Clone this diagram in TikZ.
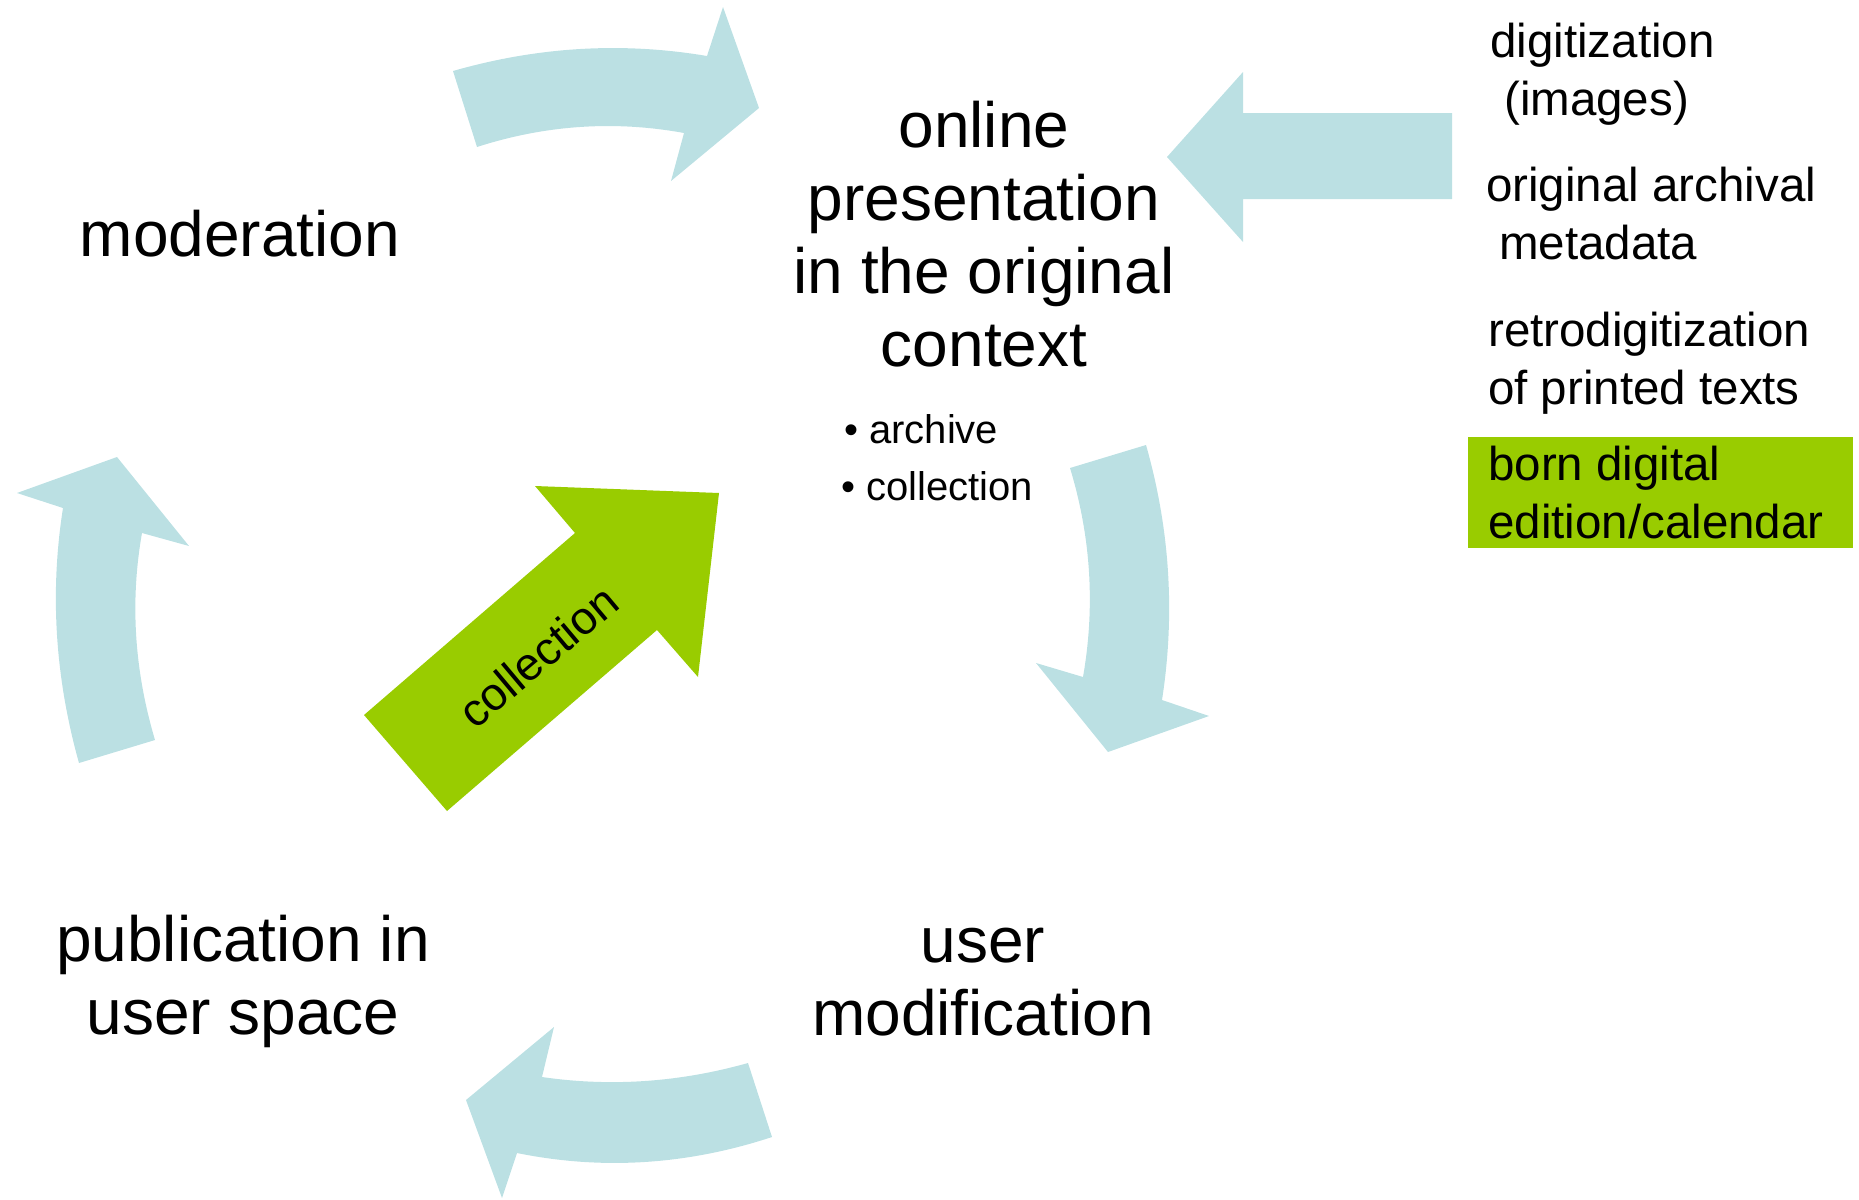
\documentclass[tikz,border=0pt]{standalone}
\usepackage{fontspec}
\setmainfont{Liberation Sans}
\definecolor{flowblue}{RGB}{187,224,227}
\definecolor{limegreen}{RGB}{153,204,0}
\begin{document}
\begin{tikzpicture}[x=1pt,y=-1pt,
  cyc/.style={fill=flowblue, draw=none},
  big/.style={font=\fontsize{64}{73}\selectfont, align=center, inner sep=0pt, anchor=base},
  side/.style={font=\fontsize{47.5}{57.5}\selectfont, align=left, inner sep=0pt, anchor=base west},
  small/.style={font=\fontsize{40}{57}\selectfont, align=left, inner sep=0pt, anchor=base west}]
\useasboundingbox (0,0) rectangle (1859,1199);

% top arrow (moderation -> online presentation)
\path[cyc] (453,71) .. controls (537.7,46.7) and (622.3,41.7) .. (707,56) -- (723,7) -- (759,108) -- (671,181) -- (684,133) .. controls (614.3,120.3) and (545.3,125) .. (477,147) -- cycle;

% input arrow from the right column
\path[cyc] (1167,157) -- (1243,72) -- (1243,113) -- (1452,113) -- (1452,199) -- (1243,199) -- (1243,242) -- cycle;

% right arrow, downwards
\path[cyc] (1070,468) .. controls (1091,537) and (1095.3,606.7) .. (1083,677) -- (1036,663) -- (1108,752) -- (1209,716) -- (1162,700) .. controls (1175.3,614.3) and (1170,529.3) .. (1146,445) -- cycle;

% bottom arrow, leftwards
\path[cyc] (748,1063) .. controls (679.3,1082.3) and (610.7,1087) .. (542,1077) -- (554,1027) -- (466,1100) -- (502,1198) -- (517,1153) .. controls (602,1170.3) and (687,1165) .. (772,1137) -- cycle;

% left arrow, upwards
\path[cyc] (79,763) -- (155,740) .. controls (134.7,671.7) and (129.7,602.7) .. (142,533) -- (189,546) -- (117,457) -- (17,493) -- (63,508) .. controls (49.7,592.3) and (55,677.3) .. (79,763) -- cycle;

% green collection arrow
\fill[limegreen] (364,715) -- (447,811) -- (657,630) -- (698,677) -- (719,493) -- (535,486) -- (575,533) -- cycle;
\node[rotate=40, inner sep=0pt, font=\fontsize{46}{46}\selectfont] (coll) at (538,656) {collection};

% main texts (base = baseline of the last line)
\node[big] (online) at (984,366) {online\\presentation\\in the original\\context};
\node[big] (moder) at (240,256) {moderation};
\node[big] (publ) at (243,1034) {publication in\\user space};
\node[big] (usermod) at (983,1035) {user\\modification};

% bullets
\node[small] (bla) at (844,443) {\textbullet{} archive};
\node[small] (blb) at (841,500) {\textbullet{} collection};

% right column
\fill[limegreen] (1468,437) rectangle (1853,548);
\node[side] (dig) at (1490,115) {digitization\\\hspace*{14pt}(images)};
\node[side] (orig) at (1486,259) {original archival\\\hspace*{13pt}metadata};
\node[side] (retro) at (1488,404) {retrodigitization\\of printed texts};
\node[side] (born) at (1488,538) {born digital\\edition/calendar};
\end{tikzpicture}
\end{document}
